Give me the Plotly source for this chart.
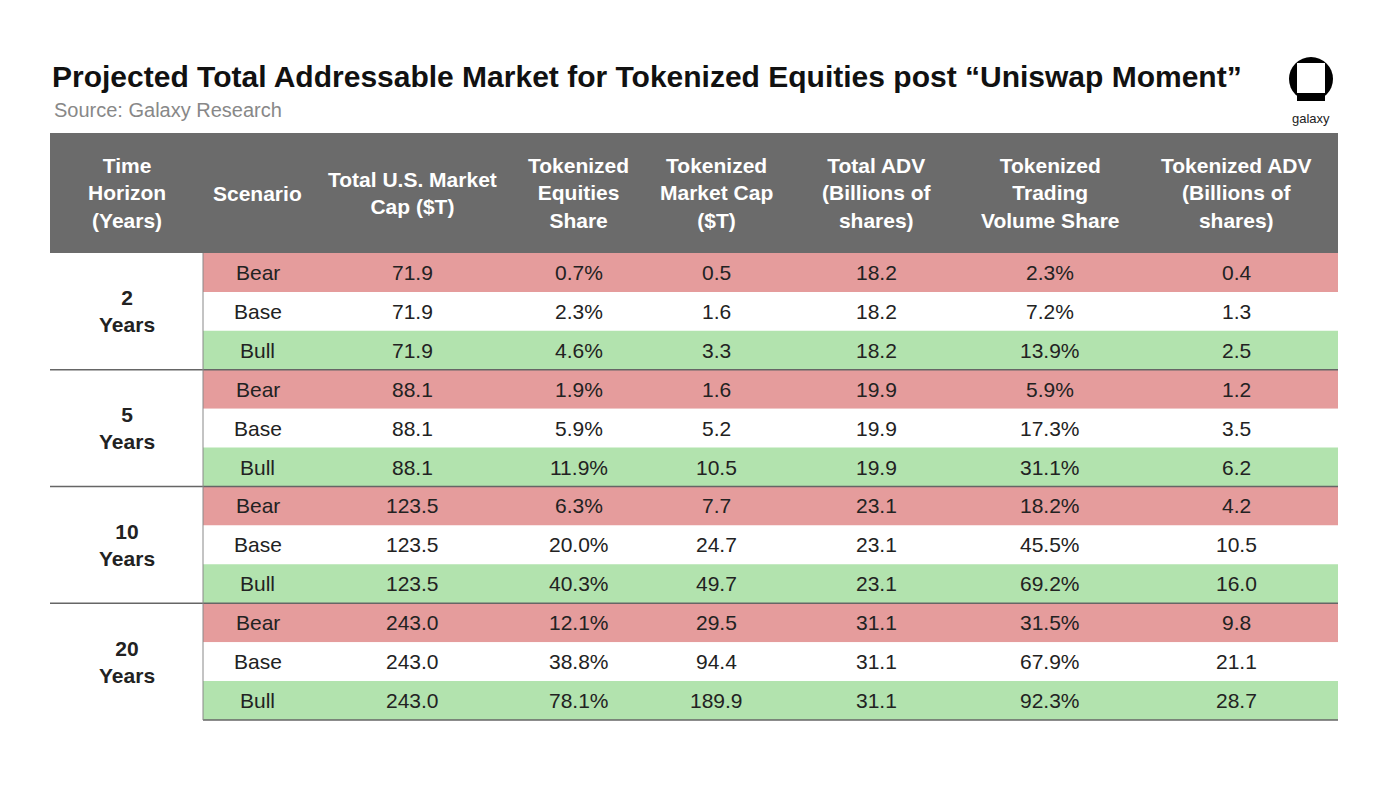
import plotly.graph_objects as go

# data
headers = ["Time<br>Horizon<br>(Years)", "Scenario", "Total U.S. Market<br>Cap ($T)",
           "Tokenized<br>Equities<br>Share", "Tokenized<br>Market Cap<br>($T)",
           "Total ADV<br>(Billions of<br>shares)", "Tokenized<br>Trading<br>Volume Share",
           "Tokenized ADV<br>(Billions of<br>shares)"]
horizons = ["2<br>Years", "5<br>Years", "10<br>Years", "20<br>Years"]
scenarios = ["Bear", "Base", "Bull"] * 4
us_cap = ["71.9"] * 3 + ["88.1"] * 3 + ["123.5"] * 3 + ["243.0"] * 3
eq_share = ["0.7%", "2.3%", "4.6%", "1.9%", "5.9%", "11.9%", "6.3%", "20.0%", "40.3%", "12.1%", "38.8%", "78.1%"]
tok_cap = ["0.5", "1.6", "3.3", "1.6", "5.2", "10.5", "7.7", "24.7", "49.7", "29.5", "94.4", "189.9"]
total_adv = ["18.2"] * 3 + ["19.9"] * 3 + ["23.1"] * 3 + ["31.1"] * 3
vol_share = ["2.3%", "7.2%", "13.9%", "5.9%", "17.3%", "31.1%", "18.2%", "45.5%", "69.2%", "31.5%", "67.9%", "92.3%"]
tok_adv = ["0.4", "1.3", "2.5", "1.2", "3.5", "6.2", "4.2", "10.5", "16.0", "9.8", "21.1", "28.7"]

# layout (pixel-space axes; page body adds an 8px offset)
W, H = 1386, 786
OFF = 8
edges = [50, 203, 312, 512, 645, 787, 965, 1135, 1338]
head_top, head_bot = 133, 253
row_h = (720 - head_bot) / 12
fills = {"Bear": "#e59c9c", "Base": "#ffffff", "Bull": "#b2e3ae"}
font = "Liberation Sans, Arial, sans-serif"

shapes, ann = [], []
shapes.append(dict(type="rect", x0=edges[0], x1=edges[-1], y0=head_top, y1=head_bot,
                   fillcolor="#6b6b6b", line_width=0, layer="below"))
for i, h in enumerate(headers):
    ann.append(dict(x=(edges[i] + edges[i + 1]) / 2, y=(head_top + head_bot) / 2, text=f"<b>{h}</b>",
                    showarrow=False, font=dict(color="white", size=21, family=font)))

cols = [scenarios, us_cap, eq_share, tok_cap, total_adv, vol_share, tok_adv]
for r in range(12):
    y0 = head_bot + r * row_h
    shapes.append(dict(type="rect", x0=edges[1], x1=edges[-1], y0=y0, y1=y0 + row_h,
                       fillcolor=fills[scenarios[r]], line_width=0, layer="below"))
    for c, col in enumerate(cols):
        ann.append(dict(x=(edges[c + 1] + edges[c + 2]) / 2, y=y0 + row_h / 2, text=col[r],
                        showarrow=False, font=dict(color="#222", size=21, family=font)))

for g, h in enumerate(horizons):
    y0 = head_bot + g * 3 * row_h
    ann.append(dict(x=(edges[0] + edges[1]) / 2, y=y0 + 1.5 * row_h, text=f"<b>{h}</b>",
                    showarrow=False, font=dict(color="#222", size=21, family=font)))
    if g > 0:
        shapes.append(dict(type="line", x0=edges[0], x1=edges[-1], y0=y0, y1=y0,
                           line=dict(color="#666", width=1.5)))
shapes.append(dict(type="line", x0=edges[1], x1=edges[-1], y0=720, y1=720, line=dict(color="#666", width=1.5)))
shapes.append(dict(type="line", x0=edges[1], x1=edges[1], y0=head_bot, y1=720, line=dict(color="#888", width=1)))

# title
ann.append(dict(x=50, y=76, xanchor="left", text="<b>Projected Total Addressable Market for Tokenized Equities post “Uniswap Moment”</b>",
                showarrow=False, font=dict(color="#111", size=30, family=font)))
ann.append(dict(x=52, y=110, xanchor="left", text="Source: Galaxy Research",
                showarrow=False, font=dict(color="#888", size=20, family=font)))

# logo
shapes.append(dict(type="circle", x0=1289, x1=1333, y0=57, y1=101, fillcolor="black", line_width=0))
shapes.append(dict(type="rect", x0=1297, x1=1325, y0=63, y1=93, fillcolor="white", line_width=0))
shapes.append(dict(type="rect", x0=1297, x1=1325, y0=95, y1=101, fillcolor="black", line_width=0))
ann.append(dict(x=1311, y=118, text="galaxy", showarrow=False, font=dict(color="#222", size=13, family=font)))

fig = go.Figure()
fig.update_layout(
    width=W, height=H, margin=dict(l=0, r=0, t=0, b=0),
    paper_bgcolor="white", plot_bgcolor="white",
    xaxis=dict(range=[OFF, W + OFF], visible=False, fixedrange=True),
    yaxis=dict(range=[H + OFF, OFF], visible=False, fixedrange=True),
    shapes=shapes, annotations=ann, showlegend=False,
)
fig.write_html("out.html")
